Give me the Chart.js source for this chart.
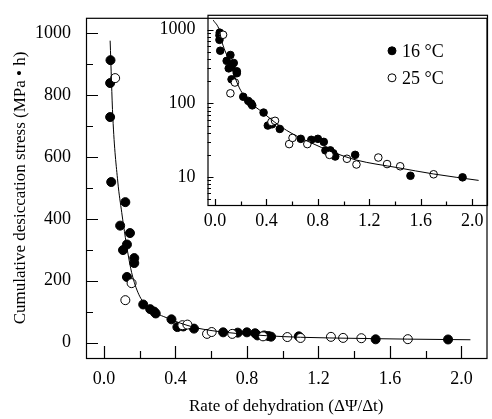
<!DOCTYPE html>
<html>
<head>
<meta charset="utf-8">
<script src="https://cdn.jsdelivr.net/npm/chart.js@4/dist/chart.umd.min.js"></script>
<style>
  body { margin: 0; background: #fff; }
  #wrap { position: relative; width: 492px; height: 419px; }
  #wrap canvas { position: absolute; left: 0; top: 0; }
</style>
</head>
<body>
<div id="wrap">
  <canvas id="main" width="492" height="419"></canvas>
  <canvas id="inset" width="492" height="419"></canvas>
</div>
<script>
// 16 °C (filled)
const coldX = [0.037, 0.035, 0.035, 0.041, 0.12, 0.091, 0.146, 0.129, 0.107, 0.17, 0.17, 0.129, 0.22, 0.259, 0.281, 0.29, 0.378, 0.411, 0.444, 0.504, 0.667, 0.749, 0.80, 0.846, 0.859, 0.897, 0.92, 0.935, 1.09, 1.52, 1.925];
const coldY = [913, 839, 729, 519, 454, 378, 354, 317, 299, 273, 257, 212, 123, 108, 100, 94, 75, 50, 52, 45, 33, 32, 33, 30, 23, 23, 21, 19, 20, 10.4, 9.9];
// 25 °C (open)
const warmX = [0.063, 0.155, 0.12, 0.439, 0.467, 0.577, 0.603, 0.718, 0.89, 1.026, 1.10, 1.27, 1.338, 1.44, 1.70];
const warmY = [855, 192, 137, 56, 58, 28, 34, 28, 20, 17.7, 14.8, 18.4, 15, 14, 10.9];
// fitted curve
const fitX = [0.035, 0.05, 0.078, 0.1, 0.12, 0.14, 0.16, 0.2, 0.26, 0.36, 0.5, 0.61, 0.75, 0.91, 1.1, 1.42, 1.7, 2.05];
const fitY = [976, 729, 519, 420, 340, 270, 215, 150, 108, 78, 50, 38, 29, 22, 17, 13.4, 11, 9];
// the inset's curve starts a bit further up-left
const insetHeadX = [-0.013];
const insetHeadY = [1350];

const xTicks = [0, 0.4, 0.8, 1.2, 1.6, 2.0];
const xMinor = [0.2, 0.6, 1.0, 1.4, 1.8];
const yTicks = [0, 200, 400, 600, 800, 1000];
const yMinor = [100, 300, 500, 700, 900];
const logTicks = [10, 100, 1000];
const logMinor = [5, 6, 7, 8, 9, 20, 30, 40, 50, 60, 70, 80, 90, 200, 300, 400, 500, 600, 700, 800, 900];

const pts = (xs, ys) => xs.map((v, i) => ({x: v, y: ys[i]}));
const serif = 'Liberation Serif, Times New Roman, serif';

// frame + inward tick marks
const inTicks = {
  id: 'inTicks',
  afterDraw(chart, args, o) {
    const {ctx, chartArea: a, scales: {x, y}} = chart;
    ctx.save();
    ctx.strokeStyle = '#000';
    ctx.lineWidth = 1.2;
    ctx.strokeRect(a.left + 0.5, a.top + 0.5, a.right - a.left, a.bottom - a.top);
    ctx.beginPath();
    const tx = (vals, len) => vals.forEach(v => {
      const px = Math.round(x.getPixelForValue(v)) + 0.5;
      ctx.moveTo(px, a.bottom); ctx.lineTo(px, a.bottom - len);
    });
    const ty = (vals, len) => vals.forEach(v => {
      const py = Math.round(y.getPixelForValue(v)) + 0.5;
      ctx.moveTo(a.left, py); ctx.lineTo(a.left + len, py);
    });
    tx(o.xMajor, o.major); tx(o.xMinor, o.minor);
    ty(o.yMajor, o.major); ty(o.yMinor, o.minor);
    ctx.stroke();
    ctx.restore();
  }
};

// legend drawn in the inset's upper right
const insetLegend = {
  id: 'insetLegend',
  afterDraw(chart) {
    const {ctx, chartArea: a} = chart;
    ctx.save();
    ctx.font = '18px ' + serif;
    ctx.textBaseline = 'middle';
    chart.data.datasets.filter(d => d.legend).sort((p, q) => p.legend - q.legend).forEach((d, i) => {
      const cx = a.right - 95, cy = a.top + 36 + i * 27;
      ctx.beginPath();
      ctx.arc(cx, cy, 4, 0, Math.PI * 2);
      ctx.fillStyle = d.backgroundColor;
      ctx.fill();
      ctx.lineWidth = 1;
      ctx.strokeStyle = '#000';
      ctx.stroke();
      ctx.fillStyle = '#000';
      ctx.fillText(d.label, cx + 10, cy + 1);
    });
    ctx.restore();
  }
};

function datasets(r, lineX, lineY) {
  return [
    {
      label: 'fit',
      data: pts(lineX, lineY),
      showLine: true,
      borderColor: '#000',
      borderWidth: 1,
      pointRadius: 0,
      cubicInterpolationMode: 'monotone'
    },
    {
      label: '25 °C',
      legend: 2,
      data: pts(warmX, warmY),
      backgroundColor: '#fff',
      borderColor: '#000',
      borderWidth: 1,
      pointRadius: r
    },
    {
      label: '16 °C',
      legend: 1,
      data: pts(coldX, coldY),
      backgroundColor: '#000',
      borderColor: '#000',
      borderWidth: 1,
      pointRadius: r
    }
  ];
}

// main chart
new Chart(document.getElementById('main'), {
  type: 'scatter',
  data: { datasets: datasets(4.5, fitX, fitY) },
  options: {
    responsive: false,
    animation: false,
    devicePixelRatio: 1,
    layout: { padding: { top: 8, right: 2, left: 0, bottom: 0 } },
    plugins: {
      legend: { display: false },
      tooltip: { enabled: false },
      inTicks: { xMajor: xTicks, xMinor: xMinor, yMajor: yTicks, yMinor: yMinor, major: 12, minor: 7 }
    },
    scales: {
      x: {
        type: 'linear',
        min: -0.1,
        max: 2.14,
        afterBuildTicks: s => { s.ticks = xTicks.map(v => ({value: v})); },
        afterFit: s => { s.height = 61; },
        grid: { display: false },
        border: { display: false },
        ticks: {
          color: '#000',
          padding: 2,
          font: { family: serif, size: 18 },
          callback: v => v.toFixed(1)
        },
        title: {
          display: true,
          text: 'Rate of dehydration (ΔΨ/Δt)',
          color: '#000',
          font: { family: serif, size: 17 },
          padding: { top: 0, bottom: 2 }
        }
      },
      y: {
        min: -50,
        max: 1050,
        afterBuildTicks: s => { s.ticks = yTicks.map(v => ({value: v})); },
        afterFit: s => { s.width = 86; },
        grid: { display: false },
        border: { display: false },
        ticks: {
          color: '#000',
          padding: 7,
          font: { family: serif, size: 18 },
          callback: v => String(v)
        },
        title: {
          display: true,
          text: 'Cumulative desiccation stress (MPa • h)',
          color: '#000',
          font: { family: serif, size: 17 },
          padding: { top: 10, bottom: 0 }
        }
      }
    }
  },
  plugins: [inTicks]
});

// inset, log y
new Chart(document.getElementById('inset'), {
  type: 'scatter',
  data: { datasets: datasets(3.8, insetHeadX.concat(fitX), insetHeadY.concat(fitY)) },
  options: {
    responsive: false,
    animation: false,
    devicePixelRatio: 1,
    layout: { padding: { top: 8, right: 2, left: 137.5, bottom: 184 } },
    plugins: {
      legend: { display: false },
      tooltip: { enabled: false },
      inTicks: { xMajor: xTicks, xMinor: xMinor, yMajor: logTicks, yMinor: logMinor, major: 6, minor: 3.5 }
    },
    scales: {
      x: {
        type: 'linear',
        min: -0.058,
        max: 2.115,
        afterBuildTicks: s => { s.ticks = xTicks.map(v => ({value: v})); },
        afterFit: s => { s.height = 30; },
        grid: { display: false },
        border: { display: false },
        ticks: {
          color: '#000',
          padding: -3,
          font: { family: serif, size: 18 },
          callback: v => v.toFixed(1)
        }
      },
      y: {
        type: 'logarithmic',
        min: 4.17,
        max: 1596,
        afterBuildTicks: s => { s.ticks = logTicks.map(v => ({value: v})); },
        afterFit: s => { s.width = 70; },
        grid: { display: false },
        border: { display: false },
        ticks: {
          color: '#000',
          padding: 4,
          font: { family: serif, size: 18 },
          callback: v => String(v)
        }
      }
    }
  },
  plugins: [inTicks, insetLegend]
});
</script>
</body>
</html>
